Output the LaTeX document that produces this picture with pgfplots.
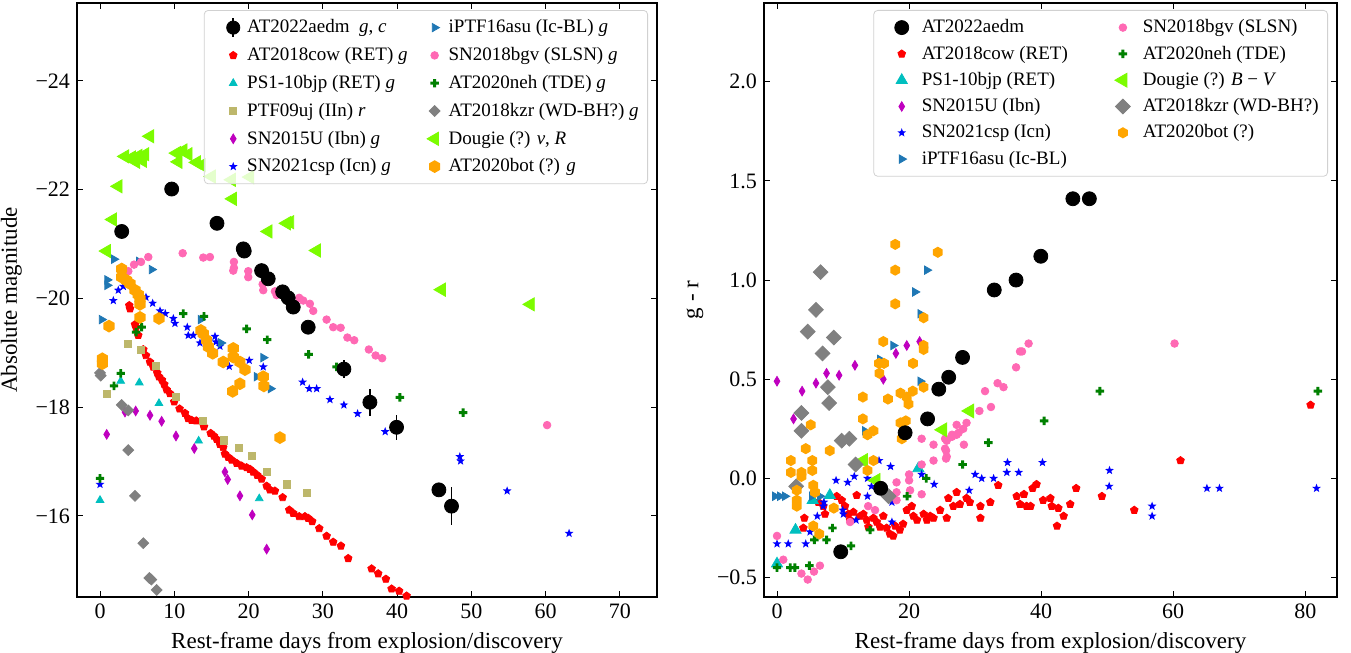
\documentclass[border=0pt]{standalone}
\usepackage{fontspec}
\setmainfont{Liberation Serif}
\usepackage{pgfplots}
\pgfplotsset{compat=1.18}
\usetikzlibrary{plotmarks}

\definecolor{ccyan}{RGB}{0,191,191}
\definecolor{cmag}{RGB}{191,0,191}
\definecolor{ckhaki}{RGB}{189,183,107}
\definecolor{ctab}{RGB}{31,119,180}
\definecolor{cpink}{RGB}{255,105,180}
\definecolor{cgreen}{RGB}{0,128,0}
\definecolor{cgray}{RGB}{128,128,128}
\definecolor{clawn}{RGB}{124,252,0}
\definecolor{corange}{RGB}{255,165,0}

% hexagon, filled star and thick plus (matplotlib h, *, P)
\pgfdeclareplotmark{hexa}{%
  \pgfpathmoveto{\pgfpointpolar{90}{\pgfplotmarksize}}%
  \pgfpathlineto{\pgfpointpolar{150}{\pgfplotmarksize}}%
  \pgfpathlineto{\pgfpointpolar{210}{\pgfplotmarksize}}%
  \pgfpathlineto{\pgfpointpolar{270}{\pgfplotmarksize}}%
  \pgfpathlineto{\pgfpointpolar{330}{\pgfplotmarksize}}%
  \pgfpathlineto{\pgfpointpolar{30}{\pgfplotmarksize}}%
  \pgfpathclose\pgfusepathqfill}
\pgfdeclareplotmark{fstar}{%
  \pgfpathmoveto{\pgfpointpolar{90}{\pgfplotmarksize}}%
  \pgfpathlineto{\pgfpointpolar{126}{0.42\pgfplotmarksize}}%
  \pgfpathlineto{\pgfpointpolar{162}{\pgfplotmarksize}}%
  \pgfpathlineto{\pgfpointpolar{198}{0.42\pgfplotmarksize}}%
  \pgfpathlineto{\pgfpointpolar{234}{\pgfplotmarksize}}%
  \pgfpathlineto{\pgfpointpolar{270}{0.42\pgfplotmarksize}}%
  \pgfpathlineto{\pgfpointpolar{306}{\pgfplotmarksize}}%
  \pgfpathlineto{\pgfpointpolar{342}{0.42\pgfplotmarksize}}%
  \pgfpathlineto{\pgfpointpolar{18}{\pgfplotmarksize}}%
  \pgfpathlineto{\pgfpointpolar{54}{0.42\pgfplotmarksize}}%
  \pgfpathclose\pgfusepathqfill}
\pgfdeclareplotmark{fplus}{%
  \pgfpathmoveto{\pgfpoint{-0.35\pgfplotmarksize}{1\pgfplotmarksize}}%
  \pgfpathlineto{\pgfpoint{0.35\pgfplotmarksize}{1\pgfplotmarksize}}%
  \pgfpathlineto{\pgfpoint{0.35\pgfplotmarksize}{0.35\pgfplotmarksize}}%
  \pgfpathlineto{\pgfpoint{1\pgfplotmarksize}{0.35\pgfplotmarksize}}%
  \pgfpathlineto{\pgfpoint{1\pgfplotmarksize}{-0.35\pgfplotmarksize}}%
  \pgfpathlineto{\pgfpoint{0.35\pgfplotmarksize}{-0.35\pgfplotmarksize}}%
  \pgfpathlineto{\pgfpoint{0.35\pgfplotmarksize}{-1\pgfplotmarksize}}%
  \pgfpathlineto{\pgfpoint{-0.35\pgfplotmarksize}{-1\pgfplotmarksize}}%
  \pgfpathlineto{\pgfpoint{-0.35\pgfplotmarksize}{-0.35\pgfplotmarksize}}%
  \pgfpathlineto{\pgfpoint{-1\pgfplotmarksize}{-0.35\pgfplotmarksize}}%
  \pgfpathlineto{\pgfpoint{-1\pgfplotmarksize}{0.35\pgfplotmarksize}}%
  \pgfpathlineto{\pgfpoint{-0.35\pgfplotmarksize}{0.35\pgfplotmarksize}}%
  \pgfpathclose\pgfusepathqfill}

\pgfplotsset{
  panel/.style={
    scale only axis, width=290pt, height=297pt,
    tick align=inside, major tick length=3pt,
    every tick/.style={black, line width=0.5pt},
    axis line style={black, line width=0.6pt},
    tick label style={font=\fontsize{11}{13}\selectfont},
    label style={font=\fontsize{11.5}{13}\selectfont},
    xlabel={Rest-frame days from explosion/discovery},
    legend columns=2,
    legend cell align=left,
    legend image post style={opacity=1},
    legend style={at={(axis description cs:1,1)}, xshift=-4.5pt, yshift=-3.5pt,
      anchor=north east, draw=black!18, rounded corners=2pt,
      fill=white, fill opacity=0.8, draw opacity=1, text opacity=1,
      font=\fontsize{9.5}{11}\selectfont,
      nodes={inner xsep=1.5pt, inner ysep=1.5pt, text height=7.2pt, text depth=2pt},
      inner xsep=3pt, inner ysep=2.5pt},
  },
  mk22/.style={only marks, mark=*, color=black, mark size=#1},
  mkcow/.style={only marks, mark=pentagon*, color=red, mark size=2pt},
  mkbjp/.style={only marks, mark=triangle*, color=ccyan, mark size=#1},
  mkuj/.style={only marks, mark=square*, color=ckhaki, mark size=1.8pt},
  mk15u/.style={only marks, mark=diamond*, color=cmag, mark size=2.4pt, mark options={xscale=0.8}},
  mkcsp/.style={only marks, mark=fstar, color=blue, mark size=2.3pt},
  mkasu/.style={only marks, mark=triangle*, color=ctab, mark size=2.4pt, mark options={rotate=-90}},
  mkbgv/.style={only marks, mark=*, color=cpink, mark size=1.9pt},
  mkneh/.style={only marks, mark=fplus, color=cgreen, mark size=2.1pt},
  mkkzr/.style={only marks, mark=diamond*, color=cgray, mark size=#1, mark options={xscale=1.33}},
  mkdoug/.style={only marks, mark=triangle*, color=clawn, mark size=#1, mark options={rotate=90}},
  mkbot/.style={only marks, mark=hexa, color=corange, mark size=#1},
}

\begin{document}
\begin{tikzpicture}
\useasboundingbox (-38.5pt,-28pt) rectangle (637pt,298.5pt);

% ---------------- left: absolute magnitude ----------------
\begin{axis}[panel, at={(0pt,0pt)}, anchor=south west,
  xmin=-3.1, xmax=75, ymin=-25.43, ymax=-14.51, y dir=reverse,
  xtick={0,10,20,30,40,50,60,70}, xticklabels={0,10,20,30,40,50,60,70},
  ytick={-24,-22,-20,-18,-16}, yticklabels={−24,−22,−20,−18,−16},
  ylabel={Absolute magnitude},
  legend image code/.code={\path[draw=none] (0pt,0pt) (17pt,0pt);
    \draw[#1] plot coordinates {(11.5pt,0pt)};},
  legend style={row sep=1.7pt,
    /tikz/every even column/.append style={column sep=0.5pt}}]

\addlegendimage{legend image code/.code={\path[draw=none] (0pt,0pt) (17pt,0pt);
  \draw[black, line width=0.8pt] (11.5pt,-4.6pt) -- (11.5pt,4.6pt);
  \fill[black] (11.5pt,0pt) circle (3.3pt);}}
\addlegendentry{AT2022aedm\ \ \textit{g}, \textit{c}}
\addlegendimage{mkasu}\addlegendentry{iPTF16asu (Ic-BL) \textit{g}}
\addlegendimage{mkcow}\addlegendentry{AT2018cow (RET) \textit{g}}
\addlegendimage{mkbgv}\addlegendentry{SN2018bgv (SLSN) \textit{g}}
\addlegendimage{mkbjp=2.2pt}\addlegendentry{PS1-10bjp (RET) \textit{g}}
\addlegendimage{mkneh}\addlegendentry{AT2020neh (TDE) \textit{g}}
\addlegendimage{mkuj}\addlegendentry{PTF09uj (IIn) \textit{r}}
\addlegendimage{mkkzr=2.7pt}\addlegendentry{AT2018kzr (WD-BH?) \textit{g}}
\addlegendimage{mk15u}\addlegendentry{SN2015U (Ibn) \textit{g}}
\addlegendimage{mkdoug=3.8pt}\addlegendentry{Dougie (?) \textit{v}, \textit{R}}
\addlegendimage{mkcsp}\addlegendentry{SN2021csp (Icn) \textit{g}}
\addlegendimage{mkbot=3.2pt}\addlegendentry{AT2020bot (?) \textit{g}}

\addplot[mkcow, forget plot] coordinates {
(3.94,-19.87)(4.04,-19.81)(4.71,-19.52)(4.85,-19.47)(5.15,-19.32)(5.83,-19.06)
(6.19,-18.95)(6.73,-18.83)(7.17,-18.74)(7.71,-18.63)(7.94,-18.56)(8.34,-18.50)
(8.65,-18.42)(8.98,-18.32)(9.42,-18.25)(9.99,-18.10)(10.71,-17.97)(11.44,-17.89)
(11.88,-17.79)(12.34,-17.76)(12.96,-17.75)(14.0,-17.64)(14.90,-17.52)(15.34,-17.47)
(15.71,-17.41)(16.15,-17.32)(16.59,-17.26)(16.82,-17.14)(17.27,-17.08)(17.73,-17.03)
(18.40,-16.97)(19.07,-16.92)(19.74,-16.89)(20.19,-16.86)(20.63,-16.81)(21.17,-16.75)
(21.76,-16.68)(22.44,-16.55)(22.88,-16.48)(23.55,-16.46)(24.59,-16.34)(25.48,-16.11)
(26.02,-16.05)(26.82,-15.99)(27.59,-15.99)(28.03,-15.96)(28.57,-15.90)(29.52,-15.77)
(30.51,-15.63)(31.40,-15.52)(32.44,-15.45)(33.42,-15.22)(36.57,-15.03)(37.46,-14.94)
(38.49,-14.84)(39.26,-14.66)(40.28,-14.62)(41.28,-14.53)};
\addplot[mkbjp=2.2pt, forget plot] coordinates {
(0,-16.29)(2.79,-18.48)(5.29,-18.45)(7.94,-18.07)(13.28,-17.38)(21.44,-16.32)};
\addplot[mkuj, forget plot] coordinates {
(0.90,-18.25)(3.73,-19.16)(5.52,-19.06)(7.54,-18.76)(10.19,-18.19)(13.90,-17.75)
(16.69,-17.39)(18.71,-17.25)(20.50,-17.10)(22.44,-16.81)(25.21,-16.58)(27.90,-16.42)};
\addplot[mk15u, forget plot] coordinates {
(0.90,-17.50)(3.36,-17.91)(4.80,-17.93)(6.73,-17.85)(8.30,-17.74)(10.23,-17.47)
(12.69,-17.24)(16.82,-16.81)(17.19,-16.67)(18.84,-16.37)(20.50,-16.02)(22.44,-15.39)};
\addplot[mkcsp, forget plot] coordinates {
(0,-16.58)(1.79,-19.96)(2.46,-20.15)(3.14,-20.22)(6.19,-20.02)(7.09,-19.91)
(8.08,-19.77)(8.79,-19.72)(9.87,-19.63)(10.09,-19.54)(11.75,-19.47)(11.88,-19.32)
(12.56,-19.32)(13.46,-19.18)(15.48,-19.30)(15.61,-19.20)(16.15,-19.12)(17.40,-18.75)
(20.09,-18.86)(21.98,-18.74)(27.28,-18.46)(28.17,-18.34)(29.17,-18.34)(30.96,-18.14)
(32.84,-18.04)(34.68,-17.88)(38.40,-17.55)(48.45,-17.09)(48.55,-17.01)(54.82,-16.46)
(63.16,-15.68)};
\addplot[mkasu, forget plot] coordinates {
(0.23,-19.61)(0.98,-20.34)(0.98,-20.24)(1.88,-20.72)(5.25,-20.68)(6.96,-20.53)
(13.55,-19.61)(16.29,-19.18)(21.09,-18.56)(21.98,-18.91)(22.97,-18.34)};
\addplot[mkbgv, forget plot] coordinates {
(3.81,-20.50)(4.58,-20.62)(5.52,-20.67)(6.50,-20.76)(11.13,-20.83)(13.90,-20.75)
(14.80,-20.76)(17.94,-20.51)(18.03,-20.56)(18.03,-20.67)(19.96,-20.50)(19.96,-20.39)
(21.90,-20.26)(21.98,-20.15)(23.55,-20.13)(23.78,-20.06)(26.82,-20.01)(27.36,-19.96)
(28.26,-19.90)(28.71,-19.77)(30.51,-19.61)(31.40,-19.47)(32.40,-19.46)(33.31,-19.28)
(34.23,-19.23)(36.20,-19.06)(37.11,-18.95)(37.99,-18.90)(60.20,-17.67)};
\addplot[mkneh, forget plot] coordinates {
(0,-16.69)(1.88,-18.39)(2.79,-18.62)(4.85,-19.38)(5.61,-19.47)(11.21,-19.72)
(14.0,-19.67)(19.74,-19.44)(22.52,-19.24)(28.09,-18.97)(31.86,-18.74)(40.38,-18.18)
(48.90,-17.90)};
\addplot[mkkzr=2.7pt, forget plot] coordinates {
(0,-18.63)(0.09,-18.58)(2.92,-18.04)(3.81,-17.94)(3.81,-17.21)(4.71,-16.37)
(5.83,-15.50)(6.64,-14.86)(6.91,-14.83)(7.63,-14.64)};
\addplot[mkdoug=3.8pt, forget plot] coordinates {
(0.90,-20.87)(1.71,-21.45)(2.46,-22.06)(3.36,-22.61)(4.27,-22.59)(4.85,-22.51)
(5.15,-22.62)(5.75,-22.53)(6.06,-22.65)(6.73,-22.98)(10.32,-22.67)(10.54,-22.51)
(11.21,-22.72)(11.88,-22.65)(13.01,-22.50)(13.69,-22.45)(15.03,-22.24)(17.73,-22.18)
(17.86,-21.83)(20.19,-22.23)(22.65,-21.23)(25.13,-21.38)(25.57,-21.40)(29.17,-20.88)
(45.99,-20.16)(57.97,-19.89)};
\addplot[mkbot=3.2pt, forget plot] coordinates {
(0.31,-18.89)(0.31,-18.80)(1.21,-19.49)(2.92,-20.54)(2.92,-20.39)(3.59,-20.33)
(4.04,-20.27)(4.71,-20.15)(5.15,-20.07)(5.38,-19.99)(5.38,-19.89)(5.38,-19.65)
(7.94,-19.63)(13.59,-19.41)(13.90,-19.35)(14.36,-19.23)(14.58,-19.11)(15.17,-18.99)
(16.59,-18.83)(17.94,-19.08)(17.94,-18.92)(18.84,-18.83)(19.52,-18.69)(18.84,-18.43)
(17.86,-18.29)(21.98,-18.56)(22.07,-18.39)(24.23,-17.44)};
\addplot[mk22=3.5pt, forget plot,
  error bars/.cd, y dir=both, y explicit, error mark=none,
  error bar style={line width=0.8pt, black}] coordinates {
(2.92,-21.23)+-(0,0.05) (9.65,-22.01)+-(0,0.05) (15.75,-21.38)+-(0,0.05)
(19.29,-20.91)+-(0,0.05) (19.42,-20.87)+-(0,0.05) (21.76,-20.51)+-(0,0.05)
(22.65,-20.36)+-(0,0.05) (24.59,-20.12)+-(0,0.05) (25.34,-20.01)+-(0,0.05)
(26.02,-19.84)+-(0,0.05) (28.03,-19.47)+-(0,0.06) (32.84,-18.70)+-(0,0.17)
(36.34,-18.09)+-(0,0.25) (39.93,-17.63)+-(0,0.23) (45.63,-16.48)+-(0,0.08)
(47.33,-16.18)+-(0,0.35)};
\end{axis}

% ---------------- right: g - r colour ----------------
\begin{axis}[panel, at={(343.5pt,0pt)}, anchor=south west, width=286.5pt,
  xmin=-1.97, xmax=84.8, ymin=-0.598, ymax=2.397,
  xtick={0,20,40,60,80}, xticklabels={0,20,40,60,80},
  ytick={-0.5,0,0.5,1,1.5,2}, yticklabels={−0.5,0.0,0.5,1.0,1.5,2.0},
  ylabel={g - r},
  legend image code/.code={\path[draw=none] (0pt,0pt) (19.5pt,0pt);
    \draw[#1] plot coordinates {(11pt,0pt)};},
  legend style={row sep=0.95pt,
    /tikz/every even column/.append style={column sep=15pt}}]

\addlegendimage{mk22=3.5pt}\addlegendentry{AT2022aedm}
\addlegendimage{mkbgv}\addlegendentry{SN2018bgv (SLSN)}
\addlegendimage{mkcow}\addlegendentry{AT2018cow (RET)}
\addlegendimage{mkneh}\addlegendentry{AT2020neh (TDE)}
\addlegendimage{mkbjp=3.2pt}\addlegendentry{PS1-10bjp (RET)}
\addlegendimage{mkdoug=4pt}\addlegendentry{Dougie (?) \textit{B} − \textit{V}}
\addlegendimage{mk15u}\addlegendentry{SN2015U (Ibn)}
\addlegendimage{mkkzr=3.7pt}\addlegendentry{AT2018kzr (WD-BH?)}
\addlegendimage{mkcsp}\addlegendentry{SN2021csp (Icn)}
\addlegendimage{mkbot=2.8pt}\addlegendentry{AT2020bot (?)}
\addlegendimage{mkasu}\addlegendentry{iPTF16asu (Ic-BL)}

\addplot[mkcow, forget plot] coordinates {
(3.99,-0.25)(4.14,-0.20)(6.26,-0.12)(7.02,-0.14)(7.27,-0.18)(9.04,-0.09)(9.80,-0.11)
(10.3,-0.14)(10.8,-0.18)(11.06,-0.21)(11.56,-0.17)(12.07,-0.085)(12.58,-0.19)
(13.08,-0.18)(13.59,-0.21)(13.84,-0.245)(14.6,-0.20)(15.1,-0.22)(15.6,-0.245)
(16.1,-0.19)(16.6,-0.25)(17.1,-0.28)(17.6,-0.29)(17.9,-0.24)(18.6,-0.26)(19.1,-0.23)
(19.65,-0.16)(20.4,-0.14)(20.65,-0.19)(21.2,-0.21)(22.2,-0.18)(22.7,-0.21)(23.2,-0.19)
(23.7,-0.20)(24.7,-0.16)(25.7,-0.20)(25.95,-0.10)(26.7,-0.14)(27.2,-0.07)(27.7,-0.13)
(28.7,-0.10)(29.2,-0.12)(30.8,-0.14)(30.8,-0.20)(32.3,-0.12)(33.5,-0.035)(36.3,-0.09)
(36.8,-0.13)(37.4,-0.08)(37.8,-0.14)(38.4,-0.14)(38.7,-0.05)(39.3,-0.03)(40.3,-0.11)
(41.4,-0.10)(41.6,-0.14)(42.6,-0.15)(42.4,-0.24)(43.4,-0.19)(44.4,-0.13)(45.3,-0.05)
(49.2,-0.09)(54.1,-0.16)(61.1,0.09)(80.8,0.37)};
\addplot[mkbjp=3.2pt, forget plot] coordinates {
(0,-0.43)(2.8,-0.26)(5.4,-0.11)(8.0,-0.085)(21.4,0.05)};
\addplot[mk15u, forget plot] coordinates {
(0,0.49)(2.5,0.30)(3.8,0.44)(5.9,0.48)(7.5,0.53)(9.4,0.52)(11.8,0.57)(16.1,0.50)
(18.0,0.63)(19.65,0.67)(21.6,0.69)};
\addplot[mkcsp, forget plot] coordinates {
(0,-0.33)(1.7,-0.33)(4.35,-0.33)(5.0,-0.27)(6.1,-0.19)(7.0,-0.14)(7.1,-0.12)
(8.94,-0.01)(9.95,-0.16)(10.05,-0.18)(10.7,-0.02)(11.7,0.01)(11.97,-0.21)(13.7,0.0)
(13.7,-0.09)(14.3,-0.04)(15.45,0.09)(17.2,0.06)(17.4,-0.12)(17.4,-0.22)(21.9,0.02)
(23.8,-0.03)(29.1,-0.06)(30.0,0.02)(31.0,0.0)(32.8,0.0)(34.9,0.08)(34.8,0.03)
(36.6,0.03)(40.2,0.08)(50.35,0.04)(50.3,-0.04)(56.8,-0.14)(56.8,-0.19)(65.1,-0.05)
(67.0,-0.05)(81.7,-0.05)};
\addplot[mkasu, forget plot] coordinates {
(-0.3,-0.09)(0.45,-0.09)(1.2,-0.09)(5.3,-0.09)(6.5,-0.09)(13.3,0.24)(22.7,1.05)
(20.9,0.94)(21.7,0.83)(17.6,0.67)(15.6,0.60)(21.7,0.49)};
\addplot[mkbgv, forget plot] coordinates {
(0,-0.29)(0.95,-0.41)(3.7,-0.48)(4.65,-0.51)(5.6,-0.47)(6.5,-0.44)(11.06,-0.22)
(13.8,-0.14)(14.85,-0.16)(18.1,-0.02)(18.1,-0.07)(18.1,-0.11)(20.0,0.02)(20.0,-0.01)
(20.15,-0.06)(21.9,0.07)(21.9,-0.08)(23.7,0.17)(23.7,0.09)(25.7,0.19)(25.45,0.15)
(25.7,0.11)(26.5,0.22)(27.2,0.22)(21.9,0.20)(25.45,0.20)(25.6,0.14)(25.6,0.10)
(26.5,0.21)(27.2,0.27)(27.5,0.23)(28.3,0.17)(28.7,0.28)(28.2,0.25)(30.65,0.34)
(32.4,0.36)(31.5,0.44)(33.4,0.48)(34.3,0.46)(36.2,0.56)(36.8,0.64)(37.1,0.64)
(38.1,0.68)(60.2,0.68)};
\addplot[mkneh, forget plot] coordinates {
(0,-0.45)(2.0,-0.45)(2.7,-0.45)(4.9,-0.44)(5.65,-0.31)(7.5,-0.31)(8.4,-0.25)
(11.2,-0.34)(14.1,-0.26)(19.7,-0.09)(22.6,0.0)(28.1,0.07)(32.0,0.18)(40.45,0.29)
(48.9,0.44)(81.9,0.44)};
\addplot[mkdoug=4pt, forget plot] coordinates {
(13.1,0.09)(15.0,-0.01)(25.1,0.245)(29.2,0.34)};
\addplot[mkkzr=3.7pt, forget plot] coordinates {
(6.6,1.04)(5.9,0.85)(4.65,0.74)(8.6,0.71)(6.9,0.63)(7.7,0.46)(7.9,0.38)(3.7,0.33)
(3.7,0.24)(9.8,0.19)(10.95,0.20)(11.9,0.07)(2.9,-0.04)(16.9,-0.09)};
\addplot[mkbot=2.8pt, forget plot] coordinates {
(17.9,1.18)(24.35,1.14)(17.9,1.05)(17.9,0.88)(22.2,0.81)(16.1,0.69)(22.2,0.67)
(22.2,0.65)(15.45,0.58)(16.2,0.58)(20.6,0.58)(15.5,0.53)(22.2,0.46)(18.7,0.43)
(19.65,0.41)(20.55,0.44)(19.9,0.375)(13.0,0.41)(16.8,0.40)(13.0,0.30)(5.1,0.27)
(18.7,0.28)(19.5,0.29)(18.9,0.20)(14.6,0.24)(13.7,0.22)(4.35,0.15)(8.0,0.14)
(2.1,0.09)(2.1,0.03)(3.7,0.03)(3.7,0.01)(5.35,0.09)(5.35,0.04)(14.6,0.09)(13.7,0.04)
(5.5,-0.035)(5.75,-0.07)(3.0,-0.06)(3.0,-0.11)(3.0,-0.14)(8.6,-0.15)(5.5,-0.24)
(6.4,-0.28)};
\addplot[mk22=3.5pt, forget plot] coordinates {
(9.65,-0.37)(15.7,-0.05)(19.4,0.23)(22.8,0.30)(24.5,0.45)(26.0,0.51)(28.1,0.61)
(32.9,0.95)(36.2,1.00)(39.95,1.12)(44.8,1.41)(47.3,1.41)};
\end{axis}
\end{tikzpicture}
\end{document}
